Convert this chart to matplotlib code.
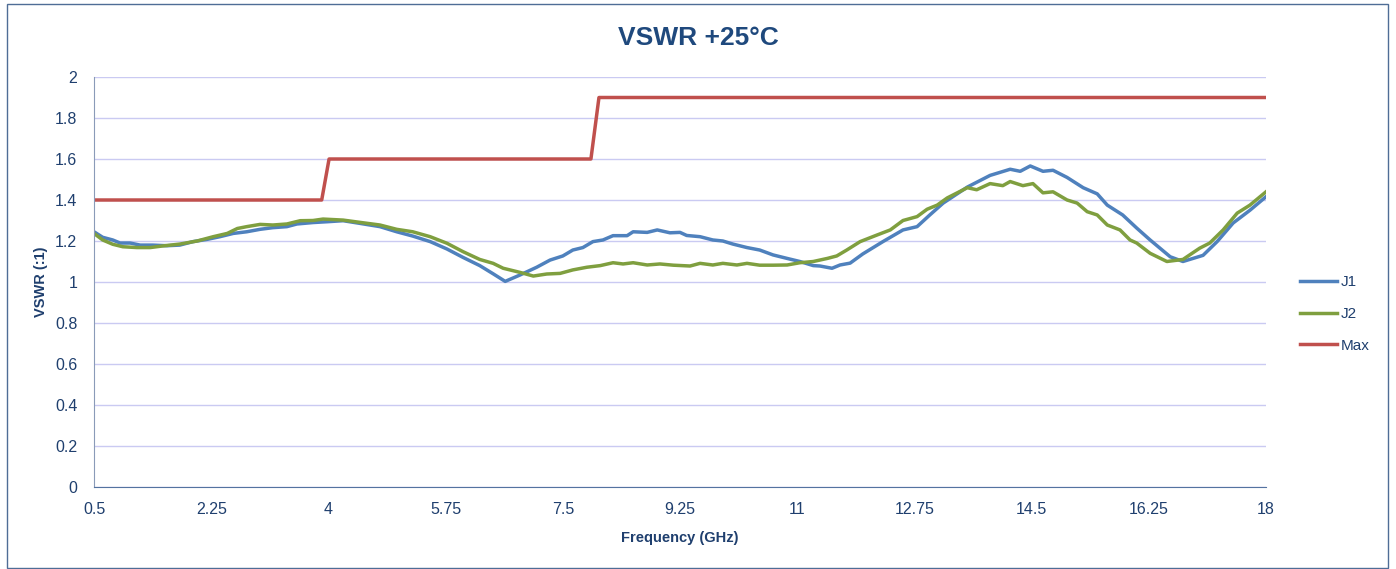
"""VSWR at +25 degC: J1 / J2 measurements against the Max limit line."""

import matplotlib
matplotlib.use("Agg")
import matplotlib.pyplot as plt
from matplotlib.patches import Rectangle

# -- Data -------------------------------------------------------------------
freq_j1 = [0.5, 0.63, 0.78, 0.89, 1.04, 1.19, 1.38, 1.59, 1.78, 1.98,
           2.19, 2.38, 2.58, 2.78, 2.98, 3.17, 3.38, 3.53, 3.77, 3.98,
           4.22, 4.47, 4.77, 5.02, 5.26, 5.52, 5.77, 6.01, 6.26, 6.46,
           6.64, 6.86, 7.11, 7.31, 7.50, 7.65, 7.80, 7.95, 8.10, 8.25,
           8.46, 8.55, 8.76, 8.91, 9.10, 9.25, 9.35, 9.55, 9.74, 9.89,
           10.04, 10.25, 10.44, 10.64, 10.85, 11.04, 11.24, 11.34, 11.52, 11.64,
           11.79, 11.98, 12.28, 12.58, 12.79, 12.98, 13.18, 13.54, 13.88, 14.18,
           14.33, 14.48, 14.67, 14.82, 15.03, 15.27, 15.48, 15.63, 15.86, 16.07,
           16.27, 16.57, 16.76, 17.06, 17.27, 17.51, 17.76, 18.0]
vswr_j1 = [1.245, 1.218, 1.205, 1.19, 1.19, 1.18, 1.18, 1.177, 1.18, 1.197,
           1.208, 1.221, 1.237, 1.245, 1.257, 1.265, 1.27, 1.283, 1.29, 1.294,
           1.299, 1.286, 1.27, 1.245, 1.224, 1.197, 1.161, 1.12, 1.08, 1.04,
           1.003, 1.034, 1.072, 1.107, 1.127, 1.156, 1.168, 1.197, 1.205, 1.226,
           1.226, 1.245, 1.242, 1.254, 1.24, 1.242, 1.227, 1.221, 1.205, 1.20,
           1.185, 1.168, 1.156, 1.132, 1.115, 1.10, 1.08, 1.078, 1.067, 1.083,
           1.092, 1.137, 1.197, 1.254, 1.27, 1.327, 1.385, 1.463, 1.52, 1.55,
           1.54, 1.566, 1.54, 1.545, 1.51, 1.46, 1.43, 1.375, 1.327, 1.263,
           1.205, 1.123, 1.10, 1.13, 1.197, 1.288, 1.35, 1.416]

freq_j2 = [0.5, 0.63, 0.78, 0.93, 1.14, 1.34, 1.53, 1.78, 2.04, 2.28,
           2.49, 2.64, 2.78, 2.98, 3.17, 3.38, 3.58, 3.77, 3.92, 4.22,
           4.47, 4.77, 5.02, 5.26, 5.52, 5.77, 6.01, 6.26, 6.46, 6.61,
           6.86, 7.06, 7.26, 7.46, 7.65, 7.86, 8.06, 8.25, 8.40, 8.55,
           8.76, 8.95, 9.15, 9.40, 9.55, 9.74, 9.89, 10.10, 10.25, 10.44,
           10.64, 10.85, 11.04, 11.24, 11.45, 11.59, 11.74, 11.94, 12.19, 12.39,
           12.58, 12.79, 12.94, 13.09, 13.24, 13.54, 13.68, 13.88, 14.07, 14.18,
           14.37, 14.52, 14.67, 14.82, 15.03, 15.18, 15.33, 15.48, 15.63, 15.82,
           15.97, 16.07, 16.27, 16.52, 16.76, 17.01, 17.16, 17.36, 17.57, 17.76,
           18.0]
vswr_j2 = [1.237, 1.205, 1.184, 1.172, 1.168, 1.168, 1.176, 1.185, 1.20, 1.221,
           1.237, 1.261, 1.27, 1.281, 1.278, 1.283, 1.299, 1.30, 1.307, 1.302,
           1.291, 1.278, 1.257, 1.245, 1.221, 1.189, 1.148, 1.11, 1.091, 1.067,
           1.047, 1.029, 1.039, 1.042, 1.059, 1.072, 1.08, 1.094, 1.088, 1.094,
           1.083, 1.088, 1.082, 1.078, 1.091, 1.083, 1.091, 1.083, 1.091, 1.082,
           1.082, 1.083, 1.094, 1.10, 1.115, 1.127, 1.156, 1.197, 1.229, 1.254,
           1.30, 1.319, 1.355, 1.375, 1.41, 1.46, 1.45, 1.48, 1.47, 1.49,
           1.47, 1.48, 1.435, 1.44, 1.40, 1.385, 1.343, 1.327, 1.278, 1.254,
           1.205, 1.19, 1.14, 1.10, 1.11, 1.165, 1.19, 1.254, 1.336, 1.375,
           1.44]

freq_max = [0.5, 3.90, 4.01, 7.92, 8.04, 18.0]
vswr_max = [1.4, 1.4, 1.6, 1.6, 1.9, 1.9]

x_ticks = [0.5, 2.25, 4, 5.75, 7.5, 9.25, 11, 12.75, 14.5, 16.25, 18]
x_tick_labels = ["0.5", "2.25", "4", "5.75", "7.5", "9.25", "11", "12.75",
                 "14.5", "16.25", "18"]
y_ticks = [0, 0.2, 0.4, 0.6, 0.8, 1.0, 1.2, 1.4, 1.6, 1.8, 2.0]
y_tick_labels = ["0", "0.2", "0.4", "0.6", "0.8", "1", "1.2", "1.4", "1.6",
                 "1.8", "2"]

# -- Style ------------------------------------------------------------------
plt.rcParams["font.family"] = ["Liberation Sans", "DejaVu Sans"]
TEXT = "#1F3F6E"
C_J1, C_J2, C_MAX = "#4F81BD", "#7F9F3F", "#C0504D"

fig = plt.figure(figsize=(13.96, 5.69), dpi=100)
ax = fig.add_axes([94 / 1396, 82 / 569, (1266 - 94) / 1396, (487 - 77) / 569])

ax.plot(freq_j1, vswr_j1, color=C_J1, lw=2.5, label="J1", solid_joinstyle="round")
ax.plot(freq_j2, vswr_j2, color=C_J2, lw=2.5, label="J2", solid_joinstyle="round")
ax.plot(freq_max, vswr_max, color=C_MAX, lw=2.5, label="Max", solid_joinstyle="round")

ax.set_xlim(0.5, 18)
ax.set_ylim(0, 2)
ax.set_xticks(x_ticks, x_tick_labels)
ax.set_yticks(y_ticks, y_tick_labels)
ax.tick_params(axis="both", length=0, labelsize=11.5, colors=TEXT)
ax.tick_params(axis="x", pad=11)
ax.tick_params(axis="y", pad=12)

ax.grid(axis="y", color="#CACAF2", lw=1.0)
ax.set_axisbelow(True)
for side in ("top", "right"):
    ax.spines[side].set_visible(False)
ax.spines["left"].set_color("#8A9BB8")
ax.spines["bottom"].set_color("#5473A0")

ax.set_xlabel("Frequency (GHz)", fontsize=10.5, fontweight="bold", color=TEXT, labelpad=10)
ax.set_ylabel("VSWR (:1)", fontsize=10.5, fontweight="bold", color=TEXT, labelpad=5)

fig.text(0.5, 1 - 38 / 569, "VSWR +25°C", ha="center", va="center",
         fontsize=19, fontweight="bold", color="#1F497D")

ax.legend(loc="center left", bbox_to_anchor=(1300 / 1396, 1 - 314 / 569),
          bbox_transform=fig.transFigure, frameon=False, fontsize=11,
          labelcolor=TEXT, handlelength=2.4, handletextpad=0.25,
          labelspacing=1.15, borderpad=0, borderaxespad=0)

# outer chart border
fig.add_artist(Rectangle((6.5 / 1396, 1.5 / 569), (1388 - 6.5) / 1396, (565 - 1.5) / 569,
                         transform=fig.transFigure, fill=False,
                         edgecolor="#4F6D96", lw=1.0))

fig.savefig("out.png", dpi=100)
plt.close(fig)
